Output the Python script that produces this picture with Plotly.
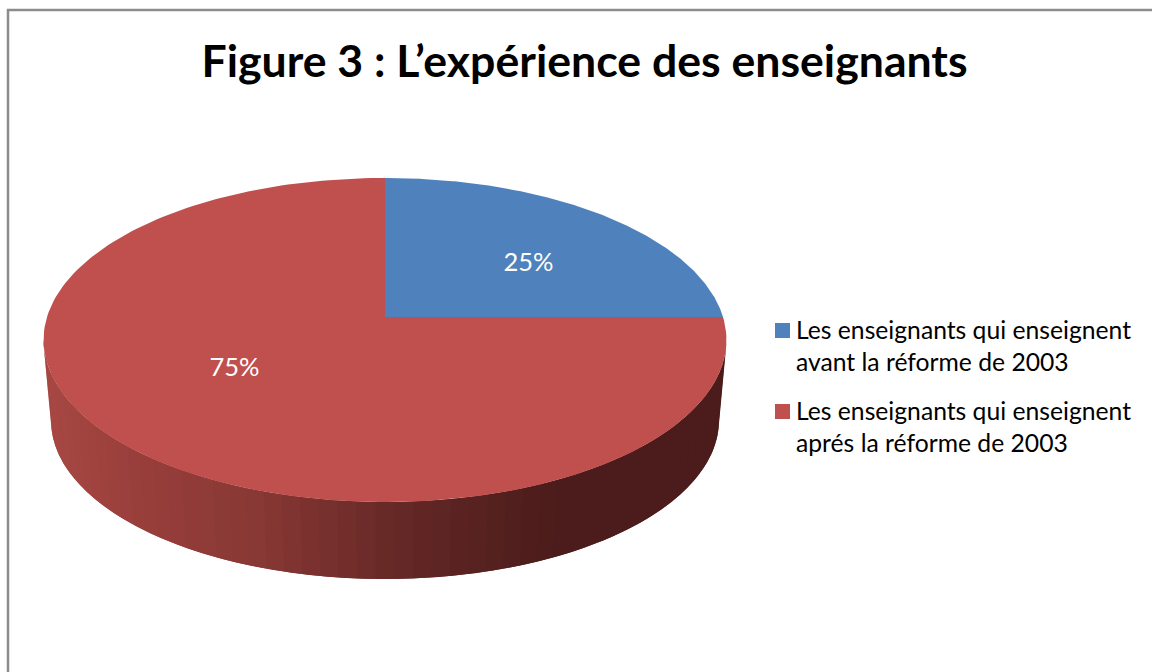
import numpy as np
import plotly.graph_objects as go

# data
title = "Figure 3 : L’expérience des enseignants"
categories = [
    "Les enseignants qui enseignent<br>avant la réforme de 2003",
    "Les enseignants qui enseignent<br>aprés la réforme de 2003",
]
shares = [25, 75]
colors = ["#4F81BD", "#C0504D"]

# perspective of the disc, in page pixels
apex_x, apex_y = 385, 317
half_w, half_h = 338, 158.8
persp = 0.142
depth_y, depth_scale = 398, 0.978
label_pos = [(0.6, 0.47), (0.63, 0.465)]

# legend placement, in page pixels
key_x, key_y = 782.5, [330.5, 411.5]
key_text_x, key_text_y = 795, [345.5, 426]

# shading of the wall, left to right
wall_x = [44, 150, 250, 385, 500, 560, 727]
wall_r = [168, 150, 136, 102, 82, 75, 75]
wall_g = [72, 62, 56, 41, 32, 28, 28]
wall_b = [68, 58, 53, 39, 30, 27, 27]


def rim(a, cy=apex_y, k=1.0):
    d = 1 + persp * np.cos(a)
    return apex_x + k * half_w * np.sin(a) / d, cy - k * half_h * np.cos(a) / d


fig = go.Figure()

# side wall, only the front half of the rim shows
a0 = np.arccos(-persp)
steps = np.linspace(a0, 2 * np.pi - a0, 60)
for i in range(len(steps) - 1):
    a = np.linspace(steps[i], steps[min(i + 2, len(steps) - 1)], 6)
    tx, ty = rim(a)
    bx, by = rim(a, depth_y, depth_scale)
    mid = (tx.mean() + bx.mean()) / 2
    c = [np.interp(mid, wall_x, v) for v in (wall_r, wall_g, wall_b)]
    fig.add_trace(go.Scatter(
        x=np.r_[tx, bx[::-1]], y=np.r_[ty, by[::-1]],
        mode="lines", fill="toself", line_width=0,
        fillcolor="rgb(%d,%d,%d)" % tuple(c),
        showlegend=False, hoverinfo="skip"))

# top of the disc
start = 0.0
for i, s in enumerate(shares):
    end = start + 2 * np.pi * s / sum(shares)
    a = np.linspace(start, end, 200)
    x, y = rim(a)
    fig.add_trace(go.Scatter(
        x=np.r_[apex_x, x, apex_x], y=np.r_[apex_y, y, apex_y],
        mode="lines", fill="toself", line_width=0, fillcolor=colors[i],
        showlegend=False, hoverinfo="skip"))
    mid = (start + end) / 2
    fx, fy = label_pos[i]
    fig.add_trace(go.Scatter(
        x=[apex_x + fx * half_w * np.sin(mid)], y=[apex_y - fy * half_h * np.cos(mid)],
        mode="text", text=[f"{s}%"],
        textfont=dict(family="Lato", size=25.5, color="white"),
        showlegend=False, hoverinfo="skip"))
    start = end

# legend keys sit on the first line of each entry, plotly's own legend centres them
fig.add_trace(go.Scatter(
    x=[key_x] * len(categories), y=key_y, mode="markers",
    marker=dict(symbol="square", size=15, color=colors),
    showlegend=False, hoverinfo="skip"))
for name, ty in zip(categories, key_text_y):
    fig.add_annotation(x=key_text_x, y=ty, text=name, showarrow=False,
                       xanchor="left", yanchor="middle", align="left",
                       xshift=-1, font=dict(family="Lato", size=24.7, color="black"))

fig.update_xaxes(range=[0, 1152], visible=False)
fig.update_yaxes(range=[672, 0], visible=False)
fig.update_layout(
    width=1152, height=672,
    margin=dict(l=0, r=0, t=0, b=0),
    paper_bgcolor="white", plot_bgcolor="white",
    font=dict(family="Lato", color="black"),
    showlegend=False,
    title=dict(text=f"<b>{title}</b>", x=584.5 / 1152, xanchor="center",
               y=1 - 61 / 672, yanchor="middle",
               font=dict(family="Lato", size=44.6, color="black")),
    shapes=[dict(type="path", xref="x", yref="y", path="M8,672 L8,10 L1152,10",
                 line=dict(color="#8C8C8C", width=2.5))],
)

fig.write_html("out.html", config=dict(displayModeBar=False),
               post_script="document.body.style.margin='0';document.body.style.overflow='hidden';")
